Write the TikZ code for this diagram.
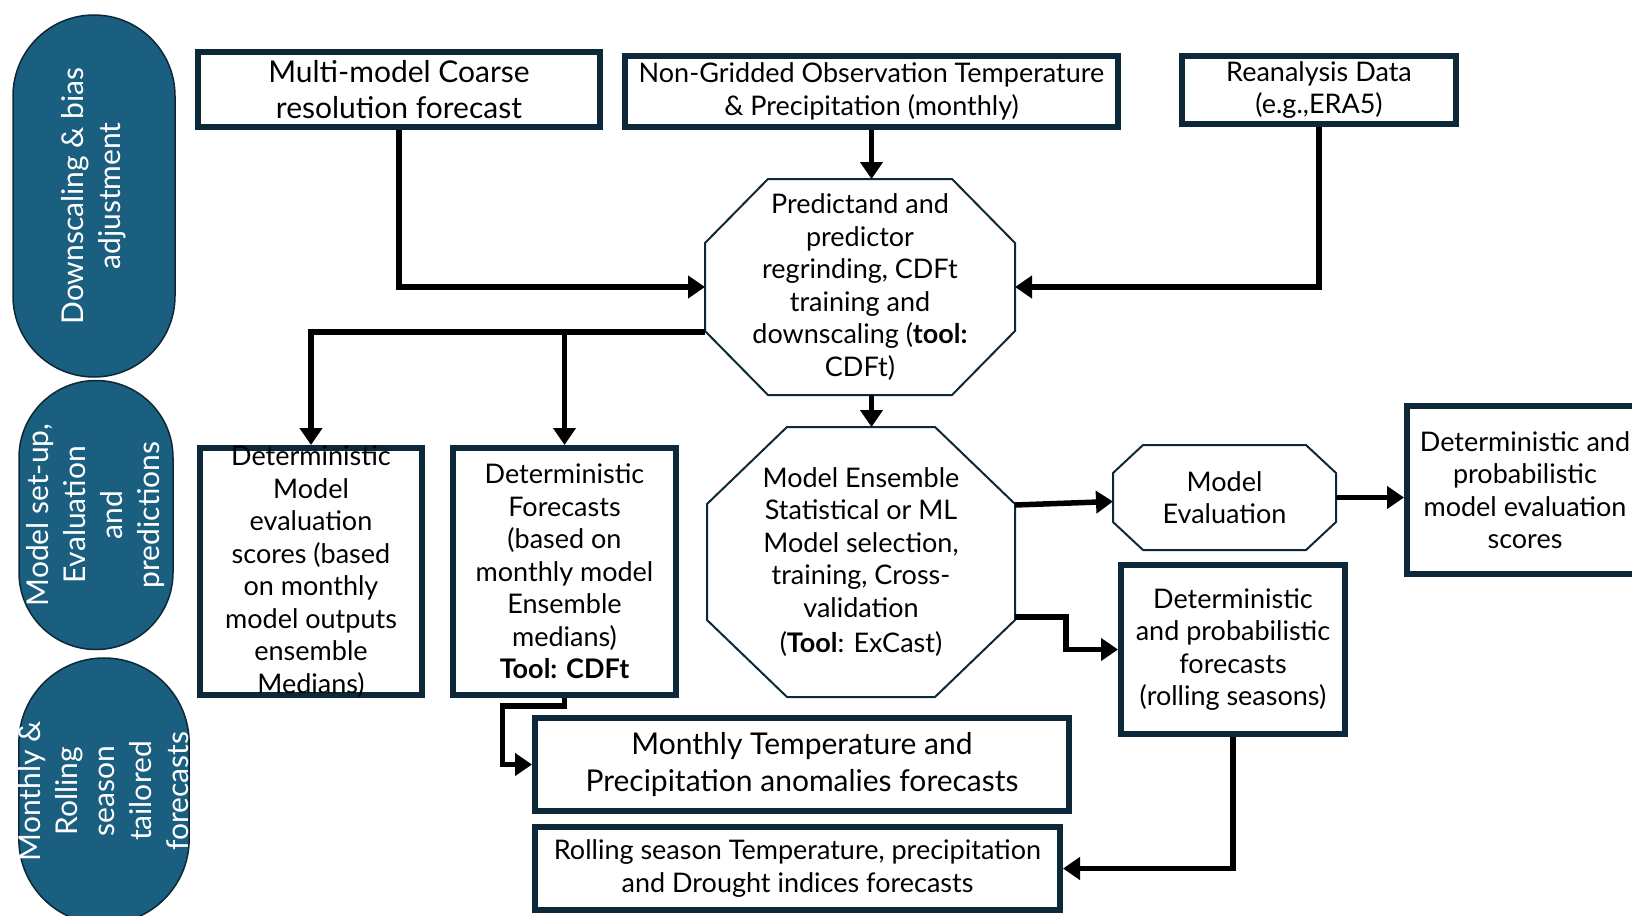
\documentclass[tikz,border=0pt]{standalone}
\usepackage{fontspec}
\setmainfont{Lato}
\usetikzlibrary{arrows.meta}

\definecolor{boxline}{HTML}{0D2838}
\definecolor{pillblue}{HTML}{1A5E80}

\tikzset{
  box/.style={draw=boxline, line width=6pt, fill=white, align=center,
    inner sep=0pt, font=\fontsize{27}{32.5}\selectfont},
  bigbox/.style={box, font=\fontsize{30}{36.5}\selectfont},
  octa/.style={align=center, inner sep=0pt, outer sep=0pt,
    font=\fontsize{27}{32.5}\selectfont},
  octaline/.style={draw=boxline, line width=2pt, line join=miter},
  pill/.style={rotate=90, draw=boxline, line width=1.5pt, fill=pillblue,
    text=white, align=center, inner sep=0pt,
    font=\fontsize{30}{37}\selectfont},
  arr/.style={line width=5.5pt, -{Triangle[length=17pt,width=22pt]}}
}

% frame with cut corners round a node: node, x cut, y cut
\newcommand{\octaframe}[3]{%
  \draw[octaline] ([xshift=#2]#1.north west) -- ([xshift=-#2]#1.north east)
    -- ([yshift=-#3]#1.north east) -- ([yshift=#3]#1.south east)
    -- ([xshift=-#2]#1.south east) -- ([xshift=#2]#1.south west)
    -- ([yshift=#3]#1.south west) -- ([yshift=-#3]#1.north west) -- cycle;}

\begin{document}
\begin{tikzpicture}[x=1pt,y=-1pt]
\useasboundingbox (0,0) rectangle (1632,915);

%% stage labels
\node[pill, minimum width=362pt, minimum height=162pt, rounded corners=81pt]
  (stageA) at (94,196) {Downscaling \& bias\\adjustment};
\node[pill, minimum width=269pt, minimum height=154pt, rounded corners=77pt]
  (stageB) at (96,515) {Model set-up,\\Evaluation\\and\\predictions};
\node[pill, minimum width=266pt, minimum height=170pt, rounded corners=85pt]
  (stageC) at (104,791) {Monthly \&\\Rolling\\season\\tailored\\forecasts};

%% input data
\node[bigbox, minimum width=402pt, minimum height=75pt] (multi) at (399,89.5)
  {Multi-model Coarse\\resolution forecast};
\node[box, minimum width=493pt, minimum height=71pt] (obs) at (871.5,91.5)
  {Non-Gridded Observation Temperature\\\& Precipitation (monthly)};
\node[box, minimum width=274pt, minimum height=68pt] (reana) at (1319,90)
  {Reanalysis Data\\(e.g.,ERA5)};

%% processing steps
\node[octa, minimum width=310pt, minimum height=216pt] (pre) at (860,287)
  {Predictand and\\predictor\\regrinding, CDFt\\training and\\downscaling (\textbf{tool:}\\CDFt)};
\octaframe{pre}{63pt}{64pt}
\node[octa, minimum width=308pt, minimum height=270pt] (ens) at (861,562)
  {Model Ensemble\\Statistical or ML\\Model selection,\\training, Cross-\\validation\\[3pt](\textbf{Tool}: ExCast)};
\octaframe{ens}{80pt}{77pt}
\node[octa, minimum width=223pt, minimum height=105pt] (eval) at (1224.5,497.5)
  {Model\\Evaluation};
\octaframe{eval}{30pt}{28pt}

%% outputs
\node[box, minimum width=222pt, minimum height=247pt, inner ysep=-6pt] (detm) at (311,571.5)
  {Deterministic\\Model\\evaluation\\scores (based\\on monthly\\model outputs\\ensemble\\Medians)};
\node[box, minimum width=223pt, minimum height=247pt] (detf) at (564.5,571.5)
  {Deterministic\\Forecasts\\(based on\\monthly model\\Ensemble\\medians)\\\textbf{Tool: CDFt}};
\node[box, minimum width=236pt, minimum height=168pt] (scores) at (1525,490)
  {Deterministic and\\probabilistic\\model evaluation\\scores};
\node[box, minimum width=224pt, minimum height=169pt] (fore) at (1233,649.5)
  {Deterministic\\and probabilistic\\forecasts\\(rolling seasons)};
\node[bigbox, minimum width=534pt, minimum height=93pt] (mon) at (802,764.5)
  {Monthly Temperature and\\Precipitation anomalies forecasts};
\node[box, minimum width=525pt, minimum height=83pt] (roll) at (797.5,868.5)
  {Rolling season Temperature, precipitation\\and Drought indices forecasts};

%% connectors
\draw[arr] (multi.south) |- (pre.west);
\draw[arr] (obs.south) -- (obs.south |- pre.north);
\draw[arr] (reana.south) |- (pre.east);
\draw[arr] ([yshift=-45pt]pre.west) -| (detm.north);
\draw[arr] ([yshift=-45pt]pre.west) -| (detf.north);
\draw[arr] (obs.south |- pre.south) -- (obs.south |- ens.north);
\draw[arr] ([yshift=57pt]ens.east) -- ([yshift=-4pt]eval.west);
\draw[arr] (eval.east) -- (eval.east -| scores.west);
\draw[arr] ([yshift=-55pt]ens.east) -- ++(51,0) |- (fore.west);
\draw[arr] (detf.south) -- ++(0,8) -- ++(-62,0) |- (mon.west);
\draw[arr] (fore.south) |- (roll.east);

\end{tikzpicture}
\end{document}
